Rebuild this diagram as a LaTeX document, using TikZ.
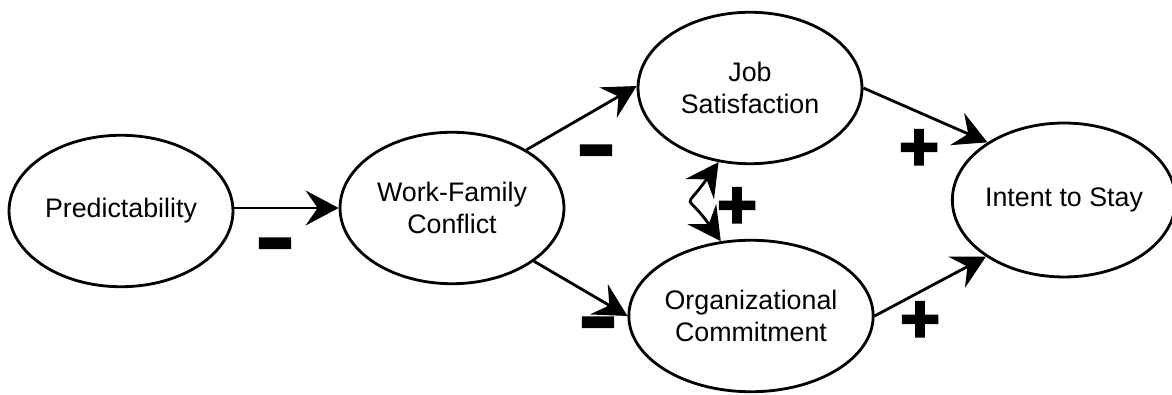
\documentclass[tikz,border=0pt]{standalone}
\usepackage{fontspec}
\setmainfont{Liberation Sans}
\newfontfamily\signfont{Liberation Sans}[FakeBold=3]
\usetikzlibrary{shapes.geometric, arrows.meta}
\newcommand{\labelfont}{\fontsize{15.25}{18.5}\selectfont}
\newcommand{\minussign}{\scalebox{0.9}[1.3]{–}}

\begin{document}
\begin{tikzpicture}[x=0.02cm, y=0.02cm, line width=1.6pt,
  >={Stealth[length=0.66cm, width=0.7cm, inset=0.24cm]},
  var/.style={draw, ellipse, inner sep=0pt, minimum width=4.48cm, minimum height=3.03cm, align=center, font=\labelfont},
  sign/.style={inner sep=0pt, font=\signfont\bfseries\fontsize{39}{39}\selectfont}]
  \useasboundingbox (0,0) rectangle (1172,395);

  % Variables
  \node[var] (pred) at (121,184) {Predictability};
  \node[var] (wfc) at (452,187) {Work-Family\\Conflict};
  \node[var] (job) at (750,307) {Job\\Satisfaction};
  \node[var] (org) at (751,79) {Organizational\\Commitment};
  \node[var, minimum width=4.28cm, minimum height=3.08cm] (stay) at (1064,195) {Intent to Stay};

  % Paths
  \draw[->] (wfc.west -| pred.east) -- (wfc.west);
  \draw[->] (wfc.38) -- (job.179);
  \draw[->] (wfc.-33) -- (org.180);
  \draw[->] (job.east) -- (stay.143);
  \draw[->] (org.east) -- (stay.216);
  \draw[<->] (job.247) to[out=235, in=125, looseness=2] (org.112);

  % Signs
  \node[sign] (m1) at (275,142) {\minussign};
  \node[sign] (m2) at (596,235) {\minussign};
  \node[sign] (m3) at (598,63) {\minussign};
  \node[sign] (p1) at (737,187) {+};
  \node[sign] (p2) at (919,245) {+};
  \node[sign] (p3) at (920,73) {+};
\end{tikzpicture}
\end{document}
